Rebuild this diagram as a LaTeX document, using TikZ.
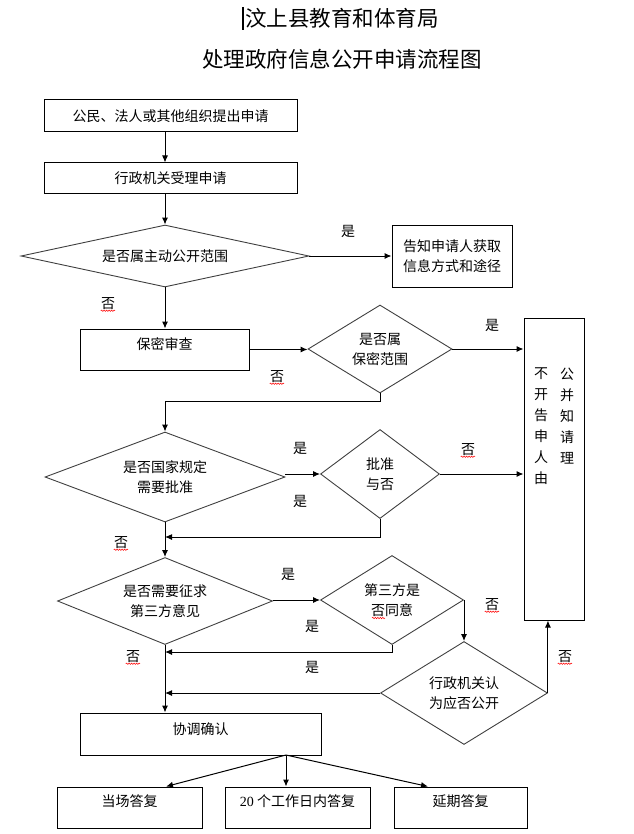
\documentclass[tikz,border=0pt]{standalone}
\usepackage{fontspec}
\setmainfont{Noto Sans CJK SC}
\newfontfamily\latinserif{Liberation Serif}
\usetikzlibrary{shapes.geometric,arrows.meta,calc,decorations.pathmorphing}
\begin{document}
\begin{tikzpicture}[x=1pt,y=-1pt,
  box/.style={draw, line width=1pt, rectangle, inner sep=0pt, font=\fontsize{14}{20}\selectfont, align=center},
  raised/.style={text height=11pt, text depth=#1},
  dia/.style={draw=black!75, line width=0.9pt, diamond, inner sep=0pt, font=\fontsize{14}{20}\selectfont, align=center},
  conn/.style={line width=1pt, -{Latex[length=7pt,width=6pt]}},
  lab/.style={inner sep=0pt, font=\fontsize{14}{16}\selectfont},
  vtext/.style={inner sep=0pt, font=\fontsize{14}{21}\selectfont, align=center, anchor=north},
  spell/.style={draw=red, line width=0.5pt, decorate, decoration={snake, amplitude=0.7pt, segment length=2.5pt}},
  titlestyle/.style={inner sep=0pt, font=\fontsize{21.5}{24}\selectfont}
]
\useasboundingbox (0,0) rectangle (633,834);

% titles
\node[titlestyle] (t1) at (342,18) {汶上县教育和体育局};
\node[titlestyle] (t2) at (342,59) {处理政府信息公开申请流程图};
\coordinate (cur1) at (243,7);
\coordinate (cur2) at (243,30);
\draw[line width=1.6pt] (cur1) -- (cur2);

% boxes
\node[box, minimum width=253pt, minimum height=32pt] (b1) at (170.5,116) {公民、法人或其他组织提出申请};
\node[box, minimum width=253pt, minimum height=31pt] (b2) at (170.5,178.5) {行政机关受理申请};
\node[box, minimum width=120pt, minimum height=62pt] (b3) at (452,256) {告知申请人获取\\信息方式和途径};
\node[box, raised=11.5pt, minimum width=169pt, minimum height=41pt] (b4) at (164.5,349.5) {保密审查};
\node[draw, line width=1pt, rectangle, minimum width=60pt, minimum height=302pt, inner sep=0pt] (big) at (554,469) {};
\node[vtext] (bigL) at (541,368) {不\\开\\告\\申\\人\\由};
\node[vtext] (bigR) at (567,368) {公\\并\\知\\请\\理};
\node[box, raised=9.5pt, minimum width=241pt, minimum height=42pt] (b5) at (200.5,734) {协调确认};
\node[box, raised=12.5pt, minimum width=145pt, minimum height=41pt] (a1) at (129.5,807.5) {当场答复};
\node[box, raised=12.5pt, minimum width=145pt, minimum height=41pt] (a2) at (297.5,807.5) {{\latinserif 20} 个工作日内答复};
\node[box, raised=12.5pt, minimum width=133pt, minimum height=41pt] (a3) at (460.5,807.5) {延期答复};

% diamonds
\node[dia, shape aspect=4.65, minimum width=288pt, minimum height=62pt] (d1) at (165,256) {是否属主动公开范围};
\node[dia, shape aspect=1.64, minimum width=144pt, minimum height=88pt] (d2) at (380,349) {是否属\\保密范围};
\node[dia, shape aspect=2.67, minimum width=240pt, minimum height=90pt] (d3) at (165,477) {是否国家规定\\需要批准};
\node[dia, shape aspect=1.34, minimum width=119pt, minimum height=89pt] (d4) at (380,474) {批准\\与否};
\node[dia, shape aspect=2.47, minimum width=215pt, minimum height=87pt] (d5) at (165,601) {是否需要征求\\第三方意见};
\node[dia, shape aspect=1.6, minimum width=143pt, minimum height=89pt] (d6) at (392,600) {第三方是\\否同意};
\node[dia, shape aspect=1.62, minimum width=167pt, minimum height=103pt] (d7) at (464,693) {行政机关认\\为应否公开};

% helper coordinates
\coordinate (r1) at (380,401);
\coordinate (r2) at (380,537);
\coordinate (r3) at (392,652);
\coordinate (fork) at (286,755);

% connectors
\draw[conn] (b1.south -| d1.north) -- (b2.north -| d1.north);
\draw[conn] (b2.south -| d1.north) -- (d1.north);
\draw[conn] (d1.east) -- (d1.east -| b3.west);
\draw[conn] (d1.south) -- (b4.north -| d1.south);
\draw[conn] (b4.east) -- (b4.east -| d2.west);
\draw[conn] (d2.east) -- (d2.east -| big.west);
\draw[conn] (d2.south) -- (r1) -- (r1 -| d3.north) -- (d3.north);
\draw[conn] (d3.east |- d4.west) -- (d4.west);
\draw[conn] (d4.east) -- (d4.east -| big.west);
\draw[conn] (d4.south) -- (r2) -- (r2 -| d3.south);
\draw[conn] (d3.south) -- (d5.north);
\draw[conn] (d5.east |- d6.west) -- (d6.west);
\draw[conn] (d6.south) -- (r3) -- (r3 -| d5.south);
\draw[conn] (d6.east) -- (d6.east -| d7.north) -- (d7.north);
\draw[conn] (d7.east) -- (d7.east |- big.south);
\draw[conn] (d7.west) -- (d7.west -| d5.south);
\draw[conn] (d5.south) -- (b5.north -| d5.south);
\draw[conn] (fork) -- ([xshift=36.5pt]a1.north);
\draw[conn] (fork) -- (fork |- a2.north);
\draw[conn] (fork) -- ([xshift=-32.5pt]a3.north);

% labels
\node[lab] (y1) at (348,231) {是};
\node[lab] (n1) at (108,304) {否};
\node[lab] (y2) at (492,325) {是};
\node[lab] (n2) at (277,377) {否};
\node[lab] (y3) at (300,448) {是};
\node[lab] (y4) at (300,501) {是};
\node[lab] (n3) at (468,450) {否};
\node[lab] (n4) at (121,543) {否};
\node[lab] (y5) at (288,574) {是};
\node[lab] (y6) at (312,626) {是};
\node[lab] (n5) at (492,605) {否};
\node[lab] (n6) at (133,657) {否};
\node[lab] (y7) at (312,667) {是};
\node[lab] (n7) at (565,657) {否};

% spell-check underlines
\foreach \n in {n1,n2,n3,n4,n5,n6,n7}{
  \draw[spell] ([yshift=-0.5pt]\n.south west) -- ([yshift=-0.5pt]\n.south east);
}
\draw[spell] ($(d6.center)+(-20,18)$) -- ($(d6.center)+(-7,18)$);
\end{tikzpicture}
\end{document}
